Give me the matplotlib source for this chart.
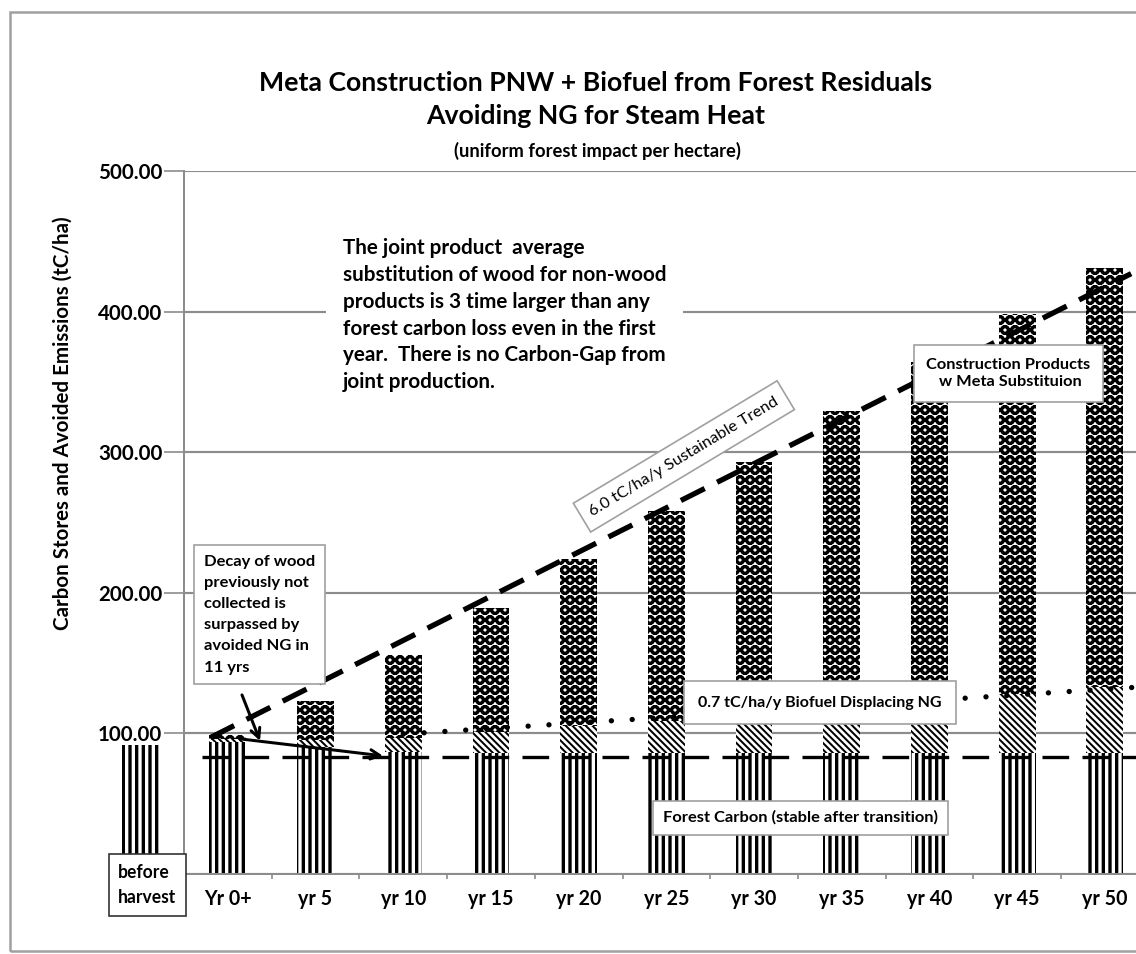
import matplotlib
matplotlib.use('Agg')
import matplotlib.pyplot as plt
from matplotlib.patches import Rectangle
import numpy as np

# ---------------- data ----------------
categories = ['Yr 0+', 'yr 5', 'yr 10', 'yr 15', 'yr 20', 'yr 25',
              'yr 30', 'yr 35', 'yr 40', 'yr 45', 'yr 50']
forest_carbon = [94, 90, 87, 86, 86, 86, 86, 86, 86, 86, 86]
biofuel_ng = [2, 5, 10, 15, 19, 23, 27, 31, 36, 42, 47]
construction = [3, 28, 59, 88, 119, 149, 180, 212, 242, 270, 298]

before_harvest_value = 92

trend_x = [-0.2, 10.3]
trend_y = [97, 427]
biofuel_trend_x = [2.0, 10.4]
biofuel_trend_y = [99.5, 133]
forest_level_x = [-0.3, 10.6]
forest_level_y = [83, 83]

yticks = [0, 100, 200, 300, 400, 500]

# ---------------- figure ----------------
DPI = 120
fig = plt.figure(figsize=(1136 / DPI, 954 / DPI), dpi=DPI)
plt.rcParams['font.family'] = ['Lato', 'DejaVu Sans']

ax = fig.add_axes([184 / 1136, 1 - 874 / 954, 964.7 / 1136, 703 / 954])

GRAY = '#8c8c8c'
x = np.arange(len(categories))
w = 0.42

def hatch_lw(container, lw):
    for p in container:
        if hasattr(p, 'set_hatch_linewidth'):
            p.set_hatch_linewidth(lw)

plt.rcParams['hatch.linewidth'] = 2.0
b1 = ax.bar(x, forest_carbon, w, color='white', edgecolor='black', lw=0,
            hatch='|||', zorder=2)
hatch_lw(b1, 2.0)
b0 = ax.bar([-1], [before_harvest_value], w, color='white', edgecolor='black',
            lw=0, hatch='|||', zorder=2, clip_on=False)
hatch_lw(b0, 2.0)

plt.rcParams['hatch.linewidth'] = 1.2
bottom2 = np.array(forest_carbon)
b2 = ax.bar(x, biofuel_ng, w, bottom=bottom2, color='white', edgecolor='black',
            lw=0, hatch='\\' * 6, zorder=2)
hatch_lw(b2, 1.2)

plt.rcParams['hatch.linewidth'] = 1.75
bottom3 = bottom2 + np.array(biofuel_ng)
b3 = ax.bar(x, construction, w, bottom=bottom3, color='white', edgecolor='black',
            lw=0, hatch='OO', zorder=2)
hatch_lw(b3, 1.75)

# trend lines
ax.plot(trend_x, trend_y, color='black', lw=3.2, ls=(0, (5, 2.6)), zorder=4)
ax.plot(biofuel_trend_x, biofuel_trend_y, color='black', lw=3.2,
        ls=(0, (0.01, 3.9)), dash_capstyle='round', zorder=4)
ax.plot(forest_level_x, forest_level_y, color='black', lw=2.0,
        ls=(0, (8, 4)), zorder=4, clip_on=False)

# axes styling
ax.set_xlim(-0.5, 10.5)
ax.set_ylim(0, 500)
ax.set_yticks(yticks)
ax.set_yticklabels(['' if v == 0 else f'{v:.2f}' for v in yticks],
                   fontsize=12.3, fontweight='bold')
ax.set_xticks(x)
ax.set_xticklabels(categories, fontsize=11.8, fontweight='bold')
ax.set_xticks(np.arange(-0.5, 11, 1), minor=True)
ax.tick_params(axis='x', which='major', length=0, pad=9)
ax.tick_params(axis='x', which='minor', length=3, color=GRAY, width=1)
ax.tick_params(axis='y', length=12, color=GRAY, width=1, pad=1)
for s in ['top', 'right']:
    ax.spines[s].set_visible(False)
for s in ['left', 'bottom']:
    ax.spines[s].set_color(GRAY)
    ax.spines[s].set_linewidth(1.2)
ax.yaxis.grid(True, color=GRAY, lw=1.3)
ax.set_axisbelow(True)

# ---------------- texts ----------------
fig.text(596 / 1136, 1 - 83 / 954,
         'Meta Construction PNW + Biofuel from Forest Residuals',
         ha='center', va='center', fontsize=16, fontweight='bold')
fig.text(596 / 1136, 1 - 116 / 954, 'Avoiding NG for Steam Heat',
         ha='center', va='center', fontsize=16, fontweight='bold')
fig.text(597 / 1136, 1 - 151 / 954, '(uniform forest impact per hectare)',
         ha='center', va='center', fontsize=11, fontweight='bold')
fig.text(63 / 1136, 1 - 423 / 954,
         'Carbon Stores and Avoided Emissions (tC/ha)',
         ha='center', va='center', rotation=90, fontsize=12.3, fontweight='bold')

ax.text(1.31, 452,
        'The joint product  average\nsubstitution of wood for non-wood\n'
        'products is 3 time larger than any\nforest carbon loss even in the first\n'
        'year.  There is no Carbon-Gap from\njoint production.',
        ha='left', va='top', fontsize=12.4, fontweight='bold', linespacing=1.42,
        bbox=dict(boxstyle='square,pad=0.8', fc='white', ec='none'), zorder=6)

ax.text(-0.272, 227,
        'Decay of wood\npreviously not\ncollected is\nsurpassed by\navoided NG in\n11 yrs',
        ha='left', va='top', fontsize=9.9, fontweight='bold', linespacing=1.65,
        bbox=dict(boxstyle='square,pad=0.6', fc='white', ec='#a0a0a0', lw=1), zorder=6)

ax.text(5.2, 297, '6.0 tC/ha/y Sustainable Trend', rotation=31,
        rotation_mode='anchor', ha='center', va='center', fontsize=9.8,
        bbox=dict(boxstyle='square,pad=0.6', fc='white', ec='#a0a0a0', lw=1), zorder=6)

ax.text(8.9, 356, 'Construction Products\n w Meta Substituion',
        ha='center', va='center', fontsize=9.8, fontweight='bold', linespacing=1.35,
        bbox=dict(boxstyle='square,pad=0.75', fc='white', ec='#a0a0a0', lw=1), zorder=6)

ax.text(5.36, 121.7, '0.7 tC/ha/y Biofuel Displacing NG',
        ha='left', va='center', fontsize=9.6, fontweight='bold',
        bbox=dict(boxstyle='square,pad=0.9', fc='white', ec='#a0a0a0', lw=1), zorder=6)

ax.text(4.96, 40, 'Forest Carbon (stable after transition)',
        ha='left', va='center', fontsize=9.9, fontweight='bold',
        bbox=dict(boxstyle='square,pad=0.6', fc='white', ec='#a0a0a0', lw=1), zorder=6)

ax.text(-1.25, -8, 'before\nharvest', ha='left', va='center', fontsize=10.5,
        fontweight='bold', linespacing=1.6, clip_on=False,
        bbox=dict(boxstyle='square,pad=0.55', fc='white', ec='#333333', lw=1), zorder=6)

# arrows
ax.annotate('', xy=(0.367, 94.7), xytext=(0.161, 127.4),
            arrowprops=dict(arrowstyle='->', lw=1.8, color='black',
                            mutation_scale=14, shrinkA=0, shrinkB=0), zorder=7)
ax.annotate('', xy=(1.77, 84.0), xytext=(0.14, 96.1),
            arrowprops=dict(arrowstyle='->', lw=1.8, color='black',
                            mutation_scale=14, shrinkA=0, shrinkB=0), zorder=7)

# outer frame
fig.patches.append(Rectangle((10 / 1136, 3 / 954), 1.2, 1 - 15 / 954,
                             transform=fig.transFigure, fill=False,
                             ec='#a0a0a0', lw=1.5, zorder=0))

fig.savefig('out.png', dpi=DPI)
